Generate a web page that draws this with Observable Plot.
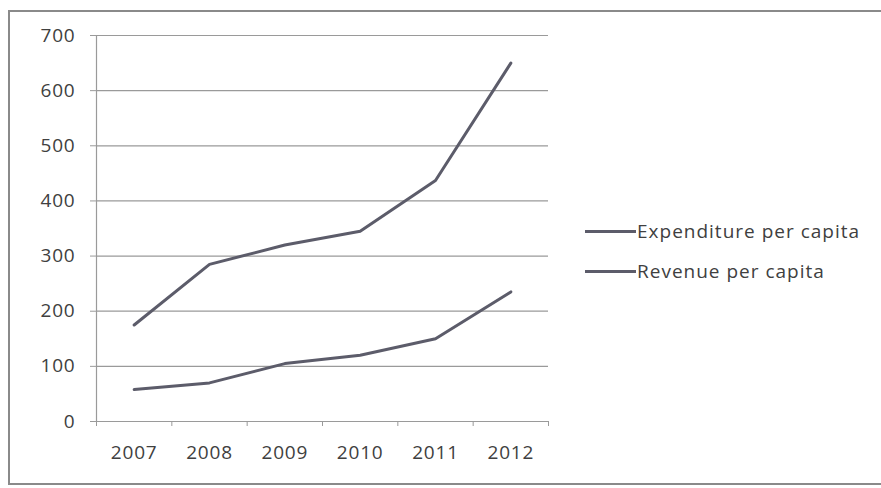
<!DOCTYPE html>
<html><head><meta charset="utf-8">
<script src="https://cdn.jsdelivr.net/npm/d3@7"></script>
<script src="https://cdn.jsdelivr.net/npm/@observablehq/plot@0.6"></script>
<style>
html,body{margin:0;padding:0;background:#fff;overflow:hidden;width:881px;height:488px;}
#wrap{position:relative;width:881px;height:488px;}
#frame{position:absolute;left:8px;top:10px;width:900px;height:475px;border:2px solid #8a8a8a;border-right:none;box-sizing:border-box;}
#legend{position:absolute;left:585px;top:211px;font-family:"Open Sans",sans-serif;font-size:19px;letter-spacing:1px;color:#404040;}
.item{display:flex;align-items:center;height:40px;}
.sw{width:51px;height:3px;background:#5c5c6a;margin-right:1px;}
#chart{position:absolute;left:0;top:0;}
</style></head>
<body><div id="wrap"><div id="frame"></div><div id="chart"></div><div id="legend"></div></div>
<script>
const years = [2007, 2008, 2009, 2010, 2011, 2012];
const expenditure = [175, 285, 320, 345, 437, 650];
const revenue = [58, 70, 105, 120, 150, 235];
const seriesNames = ["Expenditure per capita", "Revenue per capita"];
const yTicks = [0, 100, 200, 300, 400, 500, 600, 700];

const rows = [];
years.forEach((y, i) => {
  rows.push({year: y, value: expenditure[i], series: seriesNames[0]});
  rows.push({year: y, value: revenue[i], series: seriesNames[1]});
});
const bounds = years.map(y => y - 0.5).concat([years[years.length - 1] + 0.5]);
const lineColor = "#5c5c6a";
const gridColor = "#9a9a9a";

const chart = Plot.plot({
  width: 881, height: 488,
  marginLeft: 96, marginRight: 333, marginTop: 35, marginBottom: 67,
  style: {fontFamily: "'Open Sans', sans-serif", fontSize: "19px", letterSpacing: "0.8px", color: "#404040", background: "transparent"},
  x: {type: "linear", domain: [bounds[0], bounds[bounds.length - 1]]},
  y: {domain: [0, 700]},
  marks: [
    Plot.gridY(yTicks, {stroke: gridColor, strokeOpacity: 1, strokeWidth: 1.2}),
    Plot.ruleX([bounds[0]], {stroke: gridColor, strokeWidth: 1.2}),
    Plot.axisY(yTicks, {tickSize: 6, tickPadding: 15, stroke: gridColor, label: null, fill: "#404040"}),
    Plot.axisX(bounds, {tickSize: 5, tickFormat: () => "", stroke: gridColor, label: null}),
    Plot.axisX(years, {tickSize: 0, tickPadding: 24, tickFormat: d => String(d), label: null, fill: "#404040"}),
    Plot.line(rows, {x: "year", y: "value", z: "series", stroke: lineColor, strokeWidth: 3, curve: "linear"})
  ]
});
document.getElementById("chart").append(chart);

const legend = document.getElementById("legend");
seriesNames.forEach(n => {
  const d = document.createElement("div");
  d.className = "item";
  d.innerHTML = `<span class="sw"></span><span>${n}</span>`;
  legend.append(d);
});
</script></body></html>
